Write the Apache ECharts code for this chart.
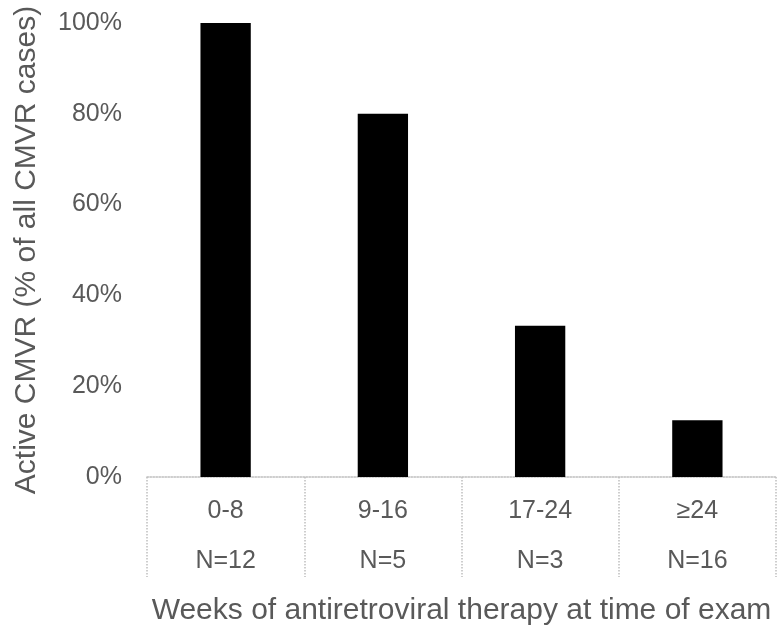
<!DOCTYPE html>
<html><head><meta charset="utf-8">
<script src="https://cdn.jsdelivr.net/npm/echarts@6/dist/echarts.min.js"></script>
<style>html,body{margin:0;padding:0;background:#fff}#c{width:780px;height:633px}</style>
</head><body><div id="c"></div>
<script>
const categories = ['0-8', '9-16', '17-24', '≥24'];
const sampleSizes = ['N=12', 'N=5', 'N=3', 'N=16'];
const activePct = [100, 80, 33.3, 12.5];
const yTicks = [0, 20, 40, 60, 80, 100];

const chart = echarts.init(document.getElementById('c'));
const font = 'Liberation Sans, Arial, sans-serif';
const gray = '#595959';
const lineGray = '#bfbfbf';
chart.setOption({
  animation: false,
  grid: { left: 147, right: 4, top: 23, bottom: 156 },
  xAxis: {
    type: 'category',
    data: categories.map((c, i) => c + '\n' + sampleSizes[i]),
    axisLine: { show: true, lineStyle: { color: lineGray, width: 1.5, type: 'dotted' } },
    axisTick: { show: true, length: 100, lineStyle: { color: lineGray, width: 1.5, type: 'dotted' } },
    axisLabel: { color: gray, fontSize: 25, fontFamily: font, lineHeight: 50, margin: 9 },
    name: 'Weeks of antiretroviral therapy at time of exam',
    nameLocation: 'middle', nameGap: 119,
    nameTextStyle: { color: gray, fontSize: 30, fontFamily: font }
  },
  yAxis: {
    type: 'value', min: 0, max: 100, interval: 20,
    axisLine: { show: false }, axisTick: { show: false }, splitLine: { show: false },
    axisLabel: { color: gray, fontSize: 25, fontFamily: font, margin: 25,
      formatter: v => yTicks.includes(v) ? v + '%' : '' },
    name: 'Active CMVR (% of all CMVR cases)',
    nameLocation: 'middle', nameGap: 105,
    nameTextStyle: { color: gray, fontSize: 30, fontFamily: font }
  },
  series: [{
    type: 'bar', data: activePct, barWidth: '32%',
    itemStyle: { color: '#000' }
  }]
});
</script></body></html>
